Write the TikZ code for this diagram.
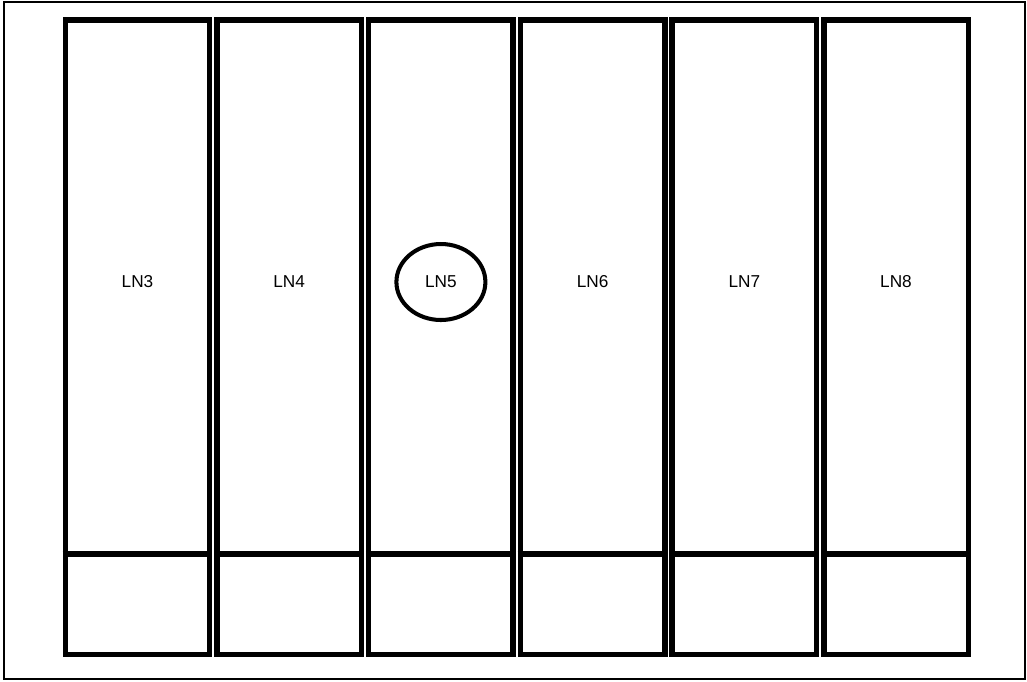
\documentclass[tikz,border=0pt]{standalone}
\usepackage{fontspec}
\setmainfont{Liberation Sans}
\usetikzlibrary{shapes.geometric}
\begin{document}
\begin{tikzpicture}[
    x=0.02cm,
    y=-0.02cm,
    lane/.style={
        draw,
        line width=3.1pt,
        minimum width=2.89cm,
        minimum height=12.69cm,
        inner sep=0pt
    },
    wall/.style={
        line width=3.1pt
    },
    lbl/.style={
        font=\fontsize{9.8}{11}\selectfont
    },
    ring/.style={
        ellipse,
        draw,
        line width=2.3pt,
        minimum width=1.78cm,
        minimum height=1.52cm
    }
]

    \useasboundingbox (0,0) rectangle (1027,681);
    \draw[line width=1pt] (4,2) rectangle (1025,679);

    % lanes with their bottom cells
    \foreach \n [count=\k from 0] in {3,...,8} {
        \node[lane] (ln\n) at (137.5+151.7*\k, 337.25) {};
        \draw[wall] (ln\n.west |- 0,554) -- (ln\n.east |- 0,554);
        \node[lbl] (lbl\n) at (ln\n.center |- 0,282) {LN\n};
    }

    \node[ring] (ring5) at (lbl5.center) {};

\end{tikzpicture}
\end{document}
